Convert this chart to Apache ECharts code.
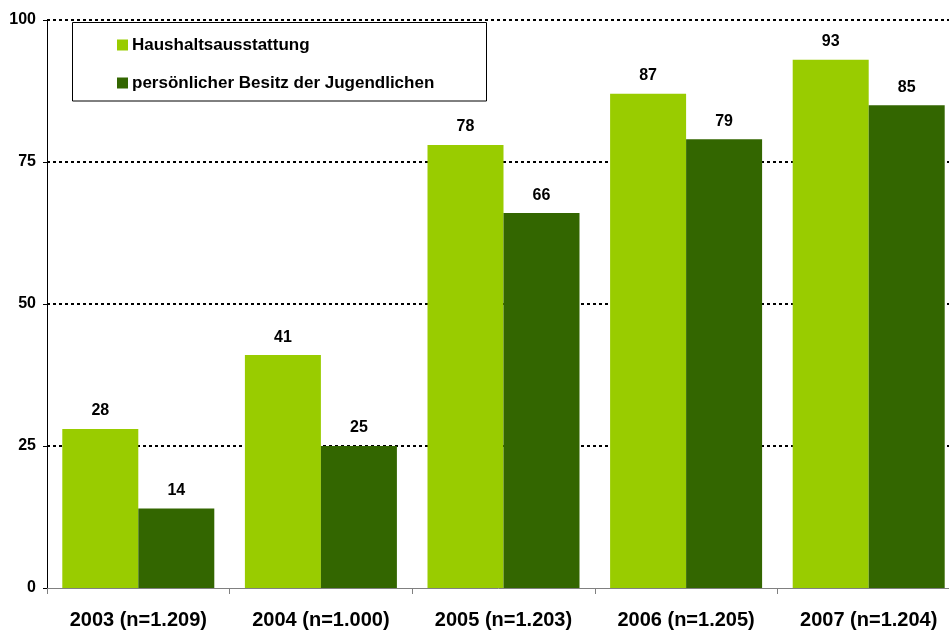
<!DOCTYPE html>
<html>
<head>
<meta charset="utf-8">
<script src="https://cdn.jsdelivr.net/npm/echarts@6/dist/echarts.min.js"></script>
<style>html,body{margin:0;padding:0;background:#fff}#c{width:949px;height:632px}</style>
</head>
<body>
<div id="c"></div>
<script>
const categories = ['2003 (n=1.209)', '2004 (n=1.000)', '2005 (n=1.203)', '2006 (n=1.205)', '2007 (n=1.204)'];
const seriesNames = ['Haushaltsausstattung', 'persönlicher Besitz der Jugendlichen'];
const haushalt = [28, 41, 78, 87, 93];
const besitz = [14, 25, 66, 79, 85];
const yTicks = [0, 25, 50, 75, 100];

const font = 'Arial, "Liberation Sans", sans-serif';
const chart = echarts.init(document.getElementById('c'));
const label = {show: true, position: 'top', distance: 10, color: '#000', fontWeight: 'bold', fontSize: 16, fontFamily: font};
chart.setOption({
  animation: false,
  backgroundColor: '#fff',
  grid: {left: 47, top: 20, bottom: 44, right: -11, containLabel: false, outerBoundsMode: 'none'},
  graphic: [{type: 'rect', shape: {x: 72.5, y: 22.5, width: 414, height: 78.5},
    style: {fill: '#fff', stroke: '#000', lineWidth: 1}, z: 50}],
  legend: {
    orient: 'vertical', left: 117, top: 36, itemWidth: 11, itemHeight: 11, itemGap: 20, z: 60,
    padding: 0,
    icon: 'rect',
    textStyle: {fontSize: 17, fontWeight: 'bold', fontFamily: font, color: '#000', lineHeight: 18, padding: [0, 0, 0, -1]},
    data: seriesNames
  },
  xAxis: {
    type: 'category', data: categories,
    axisLine: {lineStyle: {color: '#808080', width: 1}},
    axisTick: {show: true, length: 6, lineStyle: {color: '#808080'}},
    axisLabel: {color: '#000', fontSize: 20, fontWeight: 'bold', fontFamily: font, margin: 22}
  },
  yAxis: {
    type: 'value', min: yTicks[0], max: yTicks[yTicks.length - 1], interval: 25,
    axisLine: {show: true, lineStyle: {color: '#000', width: 1}},
    axisTick: {show: true, length: 4, lineStyle: {color: '#000'}},
    axisLabel: {color: '#000', fontSize: 16, fontWeight: 'bold', fontFamily: font, margin: 11},
    splitLine: {show: true, showMinLine: false, lineStyle: {color: '#000', type: [3, 3], width: 2}}
  },
  series: [
    {name: seriesNames[0], type: 'bar', data: haushalt, barWidth: 76, barGap: '0%', itemStyle: {color: '#99CC00'}, label: label},
    {name: seriesNames[1], type: 'bar', data: besitz, barWidth: 76, barGap: '0%', itemStyle: {color: '#336600'}, label: label}
  ]
});
</script>
</body>
</html>
